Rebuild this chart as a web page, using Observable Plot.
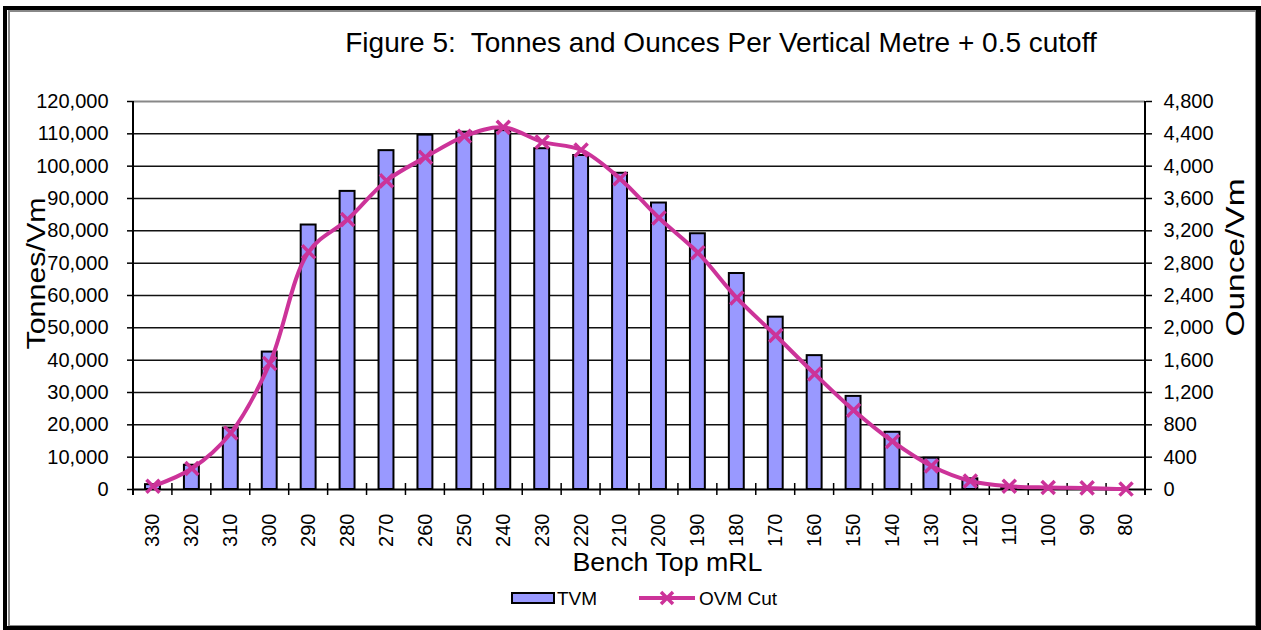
<!DOCTYPE html>
<html><head><meta charset="utf-8">
<script src="https://cdn.jsdelivr.net/npm/d3@7"></script>
<script src="https://cdn.jsdelivr.net/npm/@observablehq/plot@0.6"></script>
<style>
body{margin:0;background:#fff;font-family:"Liberation Sans",Arial,sans-serif;}
#wrap{position:relative;width:1261px;height:630px;overflow:hidden;background:#fff;}
#outer{position:absolute;left:3px;top:6px;width:1258px;height:624px;box-sizing:border-box;border:4px solid #000;border-right-width:5px;}
#inner{position:absolute;left:8px;top:10px;width:1248px;height:616px;box-sizing:border-box;border:1px solid #888;border-left-width:2px;border-top-width:2px;}
#title{position:absolute;left:0;width:1442px;top:29px;text-align:center;font-size:28px;line-height:28px;white-space:pre;color:#000;}
#chart{position:absolute;left:0;top:0;}
.lg{position:absolute;font-size:19px;line-height:19px;color:#000;}
</style></head><body>
<div id="wrap">
  <div id="outer"></div><div id="inner"></div>
  <div id="chart"></div>
  <div id="title">Figure 5:  Tonnes and Ounces Per Vertical Metre + 0.5 cutoff</div>
  <div id="legend"></div>
</div>
<script>
const benches = ["330","320","310","300","290","280","270","260","250","240","230","220","210","200","190","180","170","160","150","140","130","120","110","100","90","80"];
const tvm = [1500, 7500, 19000, 42500, 81800, 92200, 104800, 109600, 110500, 111000, 105400, 103300, 97800, 88600, 79100, 66800, 53300, 41400, 28800, 17700, 9700, 3300, 300, 150, 100, 0];
const ovmCut = [40, 260, 700, 1560, 2940, 3340, 3820, 4110, 4370, 4480, 4300, 4200, 3845, 3360, 2930, 2370, 1905, 1430, 980, 595, 290, 105, 40, 25, 20, 5];
const leftTicks = [0,10000,20000,30000,40000,50000,60000,70000,80000,90000,100000,110000,120000];
const rightTicks = [0,400,800,1200,1600,2000,2400,2800,3200,3600,4000,4400,4800];
const seriesNames = ["TVM", "OVM Cut"];
const axisTitles = {x: "Bench Top mRL", left: "Tonnes/Vm", right: "Ounce/Vm"};

const barColor = "#9999ff";
const lineColor = "#cc3399";
const ratio = leftTicks[leftTicks.length-1] / rightTicks[rightTicks.length-1]; // 25

const data = benches.map((b, i) => ({bench: b, tvm: tvm[i], ovm: ovmCut[i]}));
const fmt = d3.format(",");

const frameLines = (index, scales, values, dims) => {
  const ns = "http://www.w3.org/2000/svg";
  const g = document.createElementNS(ns, "g");
  const L = dims.marginLeft, R = dims.width - dims.marginRight;
  const T = dims.marginTop, B = dims.height - dims.marginBottom;
  const n = benches.length, bw = (R - L) / n;
  const add = (x1, y1, x2, y2, w) => {
    const l = document.createElementNS(ns, "line");
    l.setAttribute("x1", x1); l.setAttribute("y1", y1);
    l.setAttribute("x2", x2); l.setAttribute("y2", y2);
    l.setAttribute("stroke", "#000"); l.setAttribute("stroke-width", w);
    g.appendChild(l);
  };
  add(L, T, L, B + 6, 2);
  add(R, T, R, B + 6, 2);
  for (let i = 0; i <= n; i++) add(L + i * bw, B - 6, L + i * bw, B + 6, 1.5);
  return g;
};

const chart = Plot.plot({
  width: 1261,
  height: 630,
  marginLeft: 133,
  marginRight: 116,
  marginTop: 101,
  marginBottom: 141,
  style: {background: "transparent", fontFamily: "'Liberation Sans', Arial, sans-serif", color: "#000"},
  x: {type: "band", domain: benches, paddingInner: 0, paddingOuter: 0, round: false},
  y: {domain: [0, 120000]},
  marks: [
    Plot.ruleY(leftTicks.slice(1, -1), {stroke: "#111", strokeWidth: 1.5}),
    Plot.ruleY([leftTicks[leftTicks.length-1]], {stroke: "#888", strokeWidth: 2}),
    Plot.barY(data, {x: "bench", y: "tvm", fill: barColor, stroke: "#000", strokeWidth: 2, insetLeft: 12, insetRight: 12}),
    Plot.ruleY([0], {stroke: "#000", strokeWidth: 2}),
    frameLines,
    Plot.line(data, {x: "bench", y: d => d.ovm * ratio, stroke: lineColor, strokeWidth: 4, curve: "catmull-rom"}),
    Plot.dot(data, {x: "bench", y: d => d.ovm * ratio, symbol: "times", r: 6, stroke: lineColor, strokeWidth: 3.5}),
    Plot.axisY(leftTicks, {anchor: "left", tickFormat: fmt, tickSize: 6, tickPadding: 19, fontSize: 20, label: null, stroke: "#000", strokeWidth: 1.5}),
    Plot.axisY(rightTicks.map(v => v * ratio), {anchor: "right", tickFormat: v => fmt(v / ratio), tickSize: 6, tickPadding: 12, fontSize: 20, label: null, stroke: "#000", strokeWidth: 1.5}),
    Plot.axisX({anchor: "bottom", tickRotate: -90, tickSize: 0, tickPadding: 24, fontSize: 20, label: null}),
    Plot.text([axisTitles.x], {frameAnchor: "bottom", dy: 73, dx: 28, fontSize: 26, textAnchor: "middle", lineAnchor: "middle", fill: "#000"}),
    Plot.text([axisTitles.left], {frameAnchor: "left", rotate: -90, dx: -97, dy: -22, fontSize: 26, textAnchor: "middle", lineAnchor: "middle", fill: "#000"}),
    Plot.text([axisTitles.right], {frameAnchor: "right", rotate: -90, dx: 90, dy: -38, fontSize: 26, textAnchor: "middle", lineAnchor: "middle", fill: "#000"})
  ]
});
// stretch axis titles along their length like the original rendering
const stretch = {[axisTitles.x]: 190, [axisTitles.left]: 152, [axisTitles.right]: 158};
chart.querySelectorAll("text").forEach(t => {
  const s = t.textContent.trim();
  if (stretch[s]) { t.setAttribute("textLength", stretch[s]); t.setAttribute("lengthAdjust", "spacingAndGlyphs"); }
});
document.getElementById("chart").appendChild(chart);

// legend
const lg = document.getElementById("legend");
lg.innerHTML = `
  <div style="position:absolute;left:511px;top:592px;width:44px;height:12px;box-sizing:border-box;background:${barColor};border:2px solid #000;"></div>
  <div class="lg" style="left:557px;top:589px;">${seriesNames[0]}</div>
  <svg style="position:absolute;left:636px;top:588px;" width="62" height="20">
    <line x1="3" y1="10" x2="59" y2="10" stroke="${lineColor}" stroke-width="4"/>
    <path d="M25,4L37,16M37,4L25,16" stroke="${lineColor}" stroke-width="3.5"/>
  </svg>
  <div class="lg" style="left:699px;top:589px;">${seriesNames[1]}</div>`;
</script>
</body></html>
